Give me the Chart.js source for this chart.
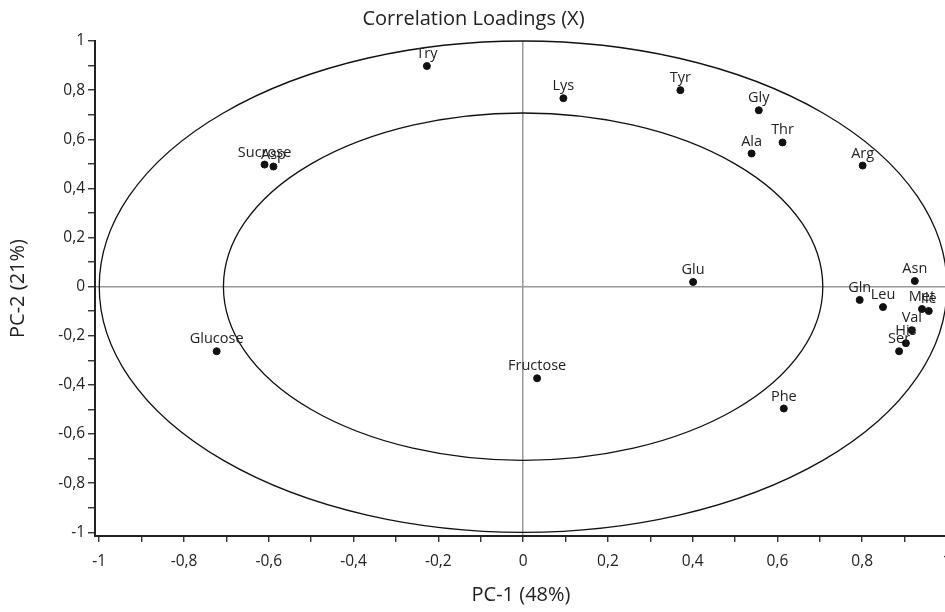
<!DOCTYPE html>
<html>
<head>
<meta charset="utf-8">
<script src="https://cdn.jsdelivr.net/npm/chart.js@4.4.1/dist/chart.umd.min.js"></script>
<style>
  html, body { margin: 0; padding: 0; background: #fff; overflow: hidden; }
  canvas { display: block; }
</style>
</head>
<body>
<canvas id="loadingsChart" width="952" height="612"></canvas>
<script>
// variables (loadings on PC-1 / PC-2)
const names = ['Try', 'Lys', 'Tyr', 'Gly', 'Ala', 'Thr', 'Arg', 'Sucrose', 'Asp', 'Glu', 'Glucose',
               'Fructose', 'Phe', 'Gln', 'Leu', 'Asn', 'Met', 'Ile', 'Val', 'His', 'Ser'];
const pc1 = [-0.227, 0.095, 0.371, 0.556, 0.539, 0.612, 0.801, -0.610, -0.589, 0.401, -0.723,
             0.033, 0.615, 0.794, 0.849, 0.924, 0.941, 0.957, 0.917, 0.903, 0.887];
const pc2 = [0.898, 0.767, 0.800, 0.718, 0.542, 0.587, 0.493, 0.497, 0.489, 0.019, -0.263,
             -0.373, -0.496, -0.054, -0.083, 0.023, -0.091, -0.099, -0.177, -0.230, -0.263];

// correlation circles (100% and 50% explained variance)
const circleRadii = [1, 0.707];

const FONT = "'Open Sans', 'DejaVu Sans', sans-serif";
const INK = '#222';

function tickText(v) {
    const r = Math.round(v * 10);
    if (r % 2 !== 0) return '';
    if (r === 0) return '0';
    if (Math.abs(r) === 10) return String(r / 10);
    return (r / 10).toFixed(1).replace('.', ',');
}

// ellipses behind the points
const circlesPlugin = {
    id: 'circles',
    beforeDatasetsDraw(chart) {
        const { ctx, scales: { x, y } } = chart;
        const cx = x.getPixelForValue(0);
        const cy = y.getPixelForValue(0);
        ctx.save();
        ctx.strokeStyle = '#111';
        ctx.lineWidth = 1.3;
        circleRadii.forEach(r => {
            const rx = x.getPixelForValue(r) - cx;
            const ry = cy - y.getPixelForValue(r);
            ctx.beginPath();
            ctx.ellipse(cx, cy, rx, ry, 0, 0, Math.PI * 2);
            ctx.stroke();
        });
        ctx.restore();
    }
};

// names above each point
const labelsPlugin = {
    id: 'pointNames',
    afterDatasetsDraw(chart) {
        const { ctx } = chart;
        const meta = chart.getDatasetMeta(0);
        ctx.save();
        ctx.font = '14.5px ' + FONT;
        ctx.fillStyle = INK;
        ctx.textAlign = 'center';
        ctx.textBaseline = 'alphabetic';
        meta.data.forEach((pt, i) => {
            ctx.fillText(names[i], pt.x, pt.y - 8);
        });
        ctx.restore();
    }
};

const zeroLine = c => (c.tick && Math.abs(c.tick.value) < 1e-9) ? '#999' : 'rgba(0,0,0,0)';

new Chart(document.getElementById('loadingsChart'), {
    type: 'scatter',
    data: {
        datasets: [{
            data: pc1.map((v, i) => ({ x: v, y: pc2[i] })),
            backgroundColor: '#111',
            borderColor: '#111',
            pointRadius: 3.5,
            pointHoverRadius: 3.5
        }]
    },
    options: {
        responsive: false,
        devicePixelRatio: 1,
        animation: false,
        layout: { padding: { left: 0, right: 5, top: 0, bottom: 0 } },
        plugins: {
            legend: { display: false },
            tooltip: { enabled: false },
            title: {
                display: true,
                text: 'Correlation Loadings (X)',
                color: INK,
                font: { family: FONT, size: 20, weight: 'normal' },
                padding: { top: 7, bottom: 10 }
            }
        },
        scales: {
            x: {
                type: 'linear',
                min: -1.01,
                max: 1,
                afterFit: s => { s.height = 76; s.paddingLeft = 0; s.paddingRight = 0; },
                ticks: {
                    stepSize: 0.1,
                    includeBounds: false,
                    autoSkip: false,
                    maxRotation: 0,
                    padding: 10,
                    color: INK,
                    font: { family: FONT, size: 15.5 },
                    callback: tickText
                },
                grid: {
                    color: zeroLine,
                    lineWidth: 1.5,
                    tickColor: INK,
                    tickLength: 6,
                    tickWidth: 1.3
                },
                border: { color: INK, width: 2 },
                title: {
                    display: true,
                    text: 'PC-1 (48%)',
                    color: INK,
                    font: { family: FONT, size: 20 },
                    padding: { top: 0, bottom: 5 }
                }
            },
            y: {
                type: 'linear',
                min: -1.015,
                max: 1,
                afterFit: s => { s.width = 95; },
                ticks: {
                    stepSize: 0.1,
                    includeBounds: false,
                    autoSkip: false,
                    padding: 3,
                    color: INK,
                    font: { family: FONT, size: 15.5 },
                    callback: tickText
                },
                grid: {
                    color: zeroLine,
                    lineWidth: 1.5,
                    tickColor: INK,
                    tickLength: 7,
                    tickWidth: 1.3
                },
                border: { color: INK, width: 2 },
                title: {
                    display: true,
                    text: 'PC-2 (21%)',
                    color: INK,
                    font: { family: FONT, size: 20 },
                    padding: { top: 6, bottom: 0 }
                }
            }
        }
    },
    plugins: [circlesPlugin, labelsPlugin]
});
</script>
</body>
</html>
